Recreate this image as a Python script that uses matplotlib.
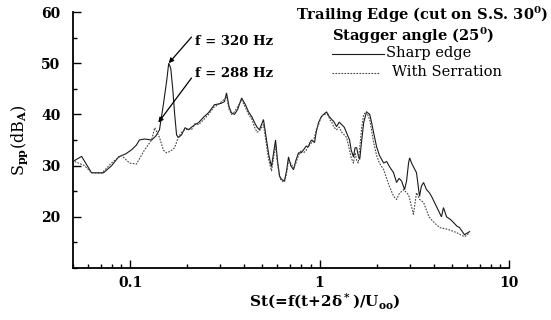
import matplotlib as mpl
import matplotlib.pyplot as plt
from matplotlib.ticker import FixedLocator, LogLocator, NullFormatter, MultipleLocator

# Sharp edge (solid)
st_sharp = [0.051, 0.0555, 0.0626, 0.0725, 0.080, 0.087, 0.095, 0.102, 0.108, 0.112,
            0.119, 0.130, 0.137, 0.143, 0.150, 0.156, 0.160, 0.164, 0.168, 0.172,
            0.176, 0.180, 0.187, 0.195, 0.204, 0.211, 0.22, 0.23, 0.245, 0.259,
            0.279, 0.29, 0.304, 0.315, 0.323, 0.333, 0.343, 0.356, 0.37, 0.388,
            0.405, 0.422, 0.44, 0.454, 0.468, 0.482, 0.506, 0.525, 0.54, 0.558,
            0.572, 0.586, 0.60, 0.615, 0.63, 0.653, 0.67, 0.686, 0.705, 0.729,
            0.75, 0.775, 0.80, 0.824, 0.85, 0.875, 0.89, 0.908, 0.941, 0.96,
            0.988, 1.02, 1.05, 1.09, 1.11, 1.13, 1.16, 1.19, 1.23, 1.27,
            1.31, 1.35, 1.39, 1.44, 1.47, 1.51, 1.54, 1.57, 1.60, 1.63,
            1.67, 1.71, 1.77, 1.84, 1.88, 1.93, 2.00, 2.07, 2.18, 2.26,
            2.34, 2.46, 2.55, 2.63, 2.71, 2.81, 2.88, 2.95, 2.99, 3.06,
            3.13, 3.25, 3.37, 3.45, 3.54, 3.67, 3.78, 3.90, 4.02, 4.14,
            4.27, 4.40, 4.51, 4.68, 4.9, 5.09, 5.3, 5.48, 5.65, 5.82, 6.0, 6.19]
db_sharp = [31.0, 31.8, 28.6, 28.6, 30.0, 31.7, 32.3, 33.1, 34.0, 35.0,
            35.2, 35.0, 35.8, 37.0, 42.0, 46.5, 50.0, 49.0, 45.0, 40.0,
            36.0, 35.5, 36.0, 37.4, 37.0, 37.5, 38.0, 38.4, 39.5, 40.3,
            41.9, 42.0, 42.2, 42.5, 44.2, 41.5, 40.3, 40.0, 41.0, 43.2,
            42.0, 40.5, 39.5, 38.4, 37.5, 37.0, 39.0, 35.0, 32.0, 29.8,
            32.5, 35.0, 31.0, 28.0, 27.3, 27.0, 29.0, 31.7, 30.0, 29.2,
            31.0, 32.5, 32.5, 33.1, 33.8, 33.7, 34.5, 35.0, 34.5, 36.5,
            38.4, 39.5, 40.0, 40.5, 39.8, 39.5, 39.0, 38.6, 37.6, 38.5,
            38.0, 37.5, 36.4, 35.0, 33.0, 31.7, 33.5, 33.5, 32.0, 31.2,
            35.0, 38.4, 40.5, 40.0, 38.5, 36.4, 33.7, 32.0, 30.5, 30.8,
            29.8, 28.6, 26.7, 27.5, 27.0, 25.3, 27.0, 30.5, 31.5, 30.5,
            29.8, 28.6, 24.0, 26.0, 26.7, 25.3, 24.8, 24.0, 23.0, 22.0,
            21.0, 20.0, 21.8, 20.0, 19.5, 18.9, 18.2, 17.9, 17.2, 16.5, 16.8, 17.1]

# With serration (dotted)
st_serr = [0.051, 0.0575, 0.0626, 0.0708, 0.0798, 0.090, 0.0994, 0.108, 0.119, 0.130,
           0.135, 0.143, 0.150, 0.156, 0.163, 0.172, 0.180, 0.187, 0.195, 0.204,
           0.211, 0.22, 0.23, 0.245, 0.259, 0.279, 0.29, 0.304, 0.315, 0.323,
           0.333, 0.343, 0.356, 0.37, 0.388, 0.405, 0.422, 0.44, 0.454, 0.468,
           0.482, 0.506, 0.525, 0.54, 0.558, 0.572, 0.586, 0.60, 0.615, 0.63,
           0.653, 0.67, 0.686, 0.705, 0.729, 0.75, 0.775, 0.80, 0.824, 0.85,
           0.875, 0.89, 0.908, 0.941, 0.96, 0.988, 1.02, 1.05, 1.09, 1.11,
           1.13, 1.16, 1.19, 1.23, 1.27, 1.31, 1.35, 1.39, 1.44, 1.47,
           1.51, 1.54, 1.57, 1.60, 1.63, 1.67, 1.71, 1.77, 1.84, 1.88,
           1.93, 2.00, 2.07, 2.18, 2.26, 2.34, 2.46, 2.55, 2.63, 2.78,
           2.95, 3.13, 3.25, 3.37, 3.54, 3.78, 4.02, 4.3, 4.8, 5.3, 5.82, 6.19]
db_serr = [30.8, 30.0, 28.6, 28.5, 30.5, 32.0, 30.5, 30.3, 33.0, 35.0,
           37.4, 35.5, 33.0, 32.5, 32.8, 33.5, 35.6, 36.5, 37.0, 37.2,
           37.0, 38.2, 38.0, 39.0, 40.0, 41.5, 41.8, 42.5, 43.0, 43.5,
           41.0, 40.0, 40.5, 41.5, 42.8, 41.5, 40.0, 39.0, 37.5, 36.5,
           36.8, 38.0, 34.0, 31.0, 29.0, 31.5, 34.0, 30.5, 27.8, 27.0,
           26.8, 28.5, 31.0, 30.5, 29.5, 30.5, 32.0, 33.0, 32.5, 33.0,
           34.0, 34.0, 34.5, 35.5, 37.0, 38.0, 39.5, 40.0, 40.0, 40.3,
           39.0, 38.5, 37.5, 37.0, 37.5, 36.5, 36.0, 35.5, 33.0, 31.5,
           30.5, 32.5, 31.0, 30.5, 33.5, 37.5, 40.0, 40.5, 39.0, 37.0,
           34.5, 32.0, 30.5, 29.2, 27.5, 25.9, 24.0, 23.4, 24.5, 25.3,
           24.3, 20.5, 24.7, 23.4, 22.8, 20.0, 18.9, 17.9, 17.5, 16.9, 16.1, 16.9]

TITLE = "Trailing Edge (cut on S.S. 30$^0$)"
SUBTITLE = "Stagger angle (25$^0$)"
LABELS = ["Sharp edge", "With Serration"]

mpl.rcParams.update({
    "font.family": "DejaVu Serif",
    "font.weight": "bold",
    "mathtext.fontset": "custom",
    "mathtext.rm": "DejaVu Serif:bold",
    "mathtext.it": "DejaVu Serif:bold",
    "mathtext.bf": "DejaVu Serif:bold",
})

fig = plt.figure(figsize=(5.51, 3.20), dpi=100)
ax = fig.add_axes([0.1325, 0.1625, 0.7913, 0.80])

ax.plot(st_sharp, db_sharp, color="#1a1a1a", lw=0.8, solid_joinstyle="miter")
ax.plot(st_serr, db_serr, color="#444444", lw=0.8, linestyle=(0, (1.5, 1.2)))

ax.set_xscale("log")
ax.set_xlim(0.05, 10)
ax.set_ylim(10, 60)

ax.xaxis.set_major_locator(FixedLocator([0.1, 1, 10]))
ax.xaxis.set_minor_locator(LogLocator(base=10, subs=range(2, 10)))
ax.xaxis.set_minor_formatter(NullFormatter())
ax.set_xticklabels(["0.1", "1", "10"])
ax.yaxis.set_major_locator(MultipleLocator(10))
ax.yaxis.set_minor_locator(MultipleLocator(5))
ax.set_yticks([20, 30, 40, 50, 60])

ax.tick_params(which="both", direction="in", width=1.0, labelsize=10)
ax.tick_params(which="major", length=6)
ax.tick_params(which="minor", length=3)
ax.tick_params(axis="y", pad=9)
ax.tick_params(axis="x", pad=6)
for side in ("top", "right"):
    ax.spines[side].set_visible(False)
for side in ("left", "bottom"):
    ax.spines[side].set_linewidth(1.3)

ax.set_ylabel("S$_{pp}$(dB$_A$)", fontsize=11.5, labelpad=8)
fig.text(0.59, 0.058, "St(=f(t+2δ$^*$)/U$_{oo}$)", ha="center", va="center", fontsize=11)

# annotations
arrow = dict(arrowstyle="-|>", color="black", lw=0.9, mutation_scale=7, shrinkA=0, shrinkB=0)
ax.annotate("", xy=(0.160, 50.0), xytext=(0.211, 55.1), arrowprops=arrow)
ax.annotate("", xy=(0.141, 38.4), xytext=(0.211, 47.1), arrowprops=arrow)
ax.text(0.22, 54.2, "f = 320 Hz", fontsize=9.5, va="center", ha="left")
ax.text(0.22, 47.9, "f = 288 Hz", fontsize=9.5, va="center", ha="left")

# legend block
fig.text(0.995, 0.955, TITLE, ha="right", va="center", fontsize=10.5)
fig.text(0.602, 0.888, SUBTITLE, ha="left", va="center", fontsize=10.5)
fig.add_artist(plt.Line2D([0.603, 0.697], [0.832, 0.832], color="#1a1a1a", lw=0.8))
fig.add_artist(plt.Line2D([0.603, 0.69], [0.773, 0.773], color="#444444", lw=0.8,
                          linestyle=(0, (1.5, 1.2))))
fig.text(0.70, 0.834, LABELS[0], ha="left", va="center", fontsize=10.5, fontweight="normal")
fig.text(0.712, 0.775, LABELS[1], ha="left", va="center", fontsize=10.5, fontweight="normal")

fig.savefig("out.png", dpi=100)
